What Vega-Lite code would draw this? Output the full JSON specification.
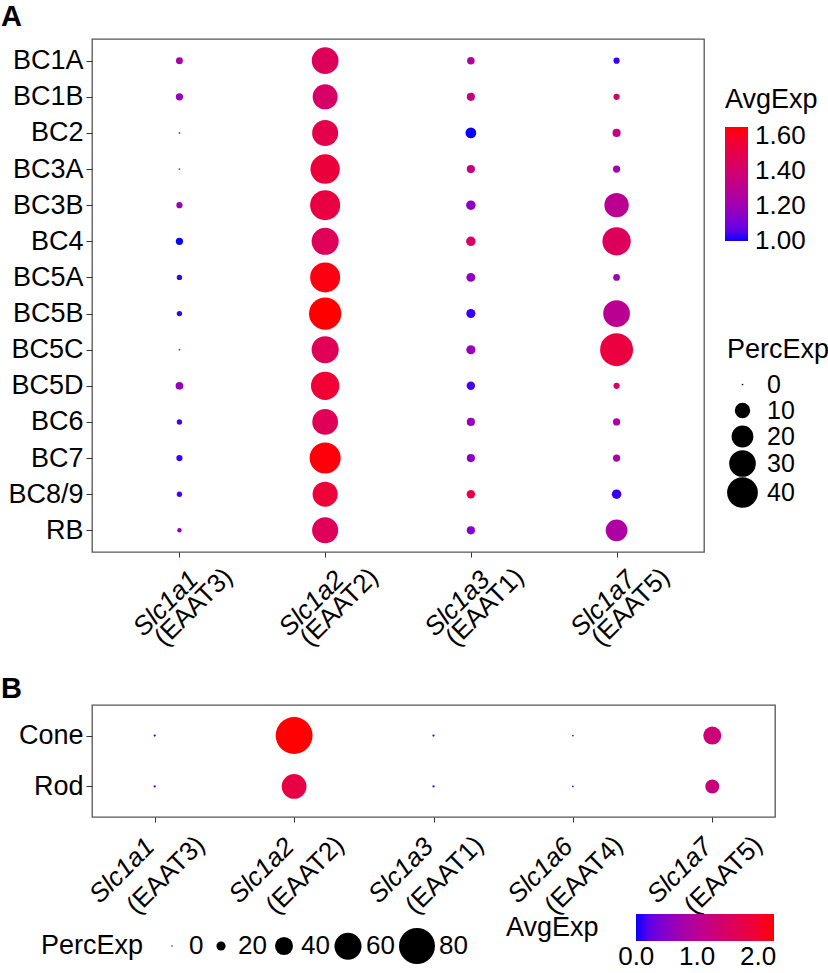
{
  "$schema": "https://vega.github.io/schema/vega-lite/v6.json",
  "padding": {"left": 0, "top": 2, "right": 0, "bottom": 0},
  "background": "white",
  "config": {
    "font": "Liberation Sans",
    "view": {"stroke": "#555555", "strokeWidth": 1.3},
    "axis": {"labelFont": "Liberation Sans", "labelFontSize": 27, "labelColor": "black", "domain": false, "ticks": true, "tickColor": "#333333", "tickSize": 5, "grid": false, "title": null},
    "legend": {"titleFont": "Liberation Sans", "titleFontSize": 27, "titleFontWeight": "normal", "titleColor": "black", "labelFont": "Liberation Sans", "labelFontSize": 26, "labelColor": "black", "labelOverlap": false}
  },
  "datasets": {
    "a": [
      {"cell": "BC1A", "gene": "Slc1a1 (EAAT3)", "pct": 1.9, "avg": 1.22},
      {"cell": "BC1B", "gene": "Slc1a1 (EAAT3)", "pct": 2.1, "avg": 1.18},
      {"cell": "BC2", "gene": "Slc1a1 (EAAT3)", "pct": 0, "avg": 1.3},
      {"cell": "BC3A", "gene": "Slc1a1 (EAAT3)", "pct": 0, "avg": 1.3},
      {"cell": "BC3B", "gene": "Slc1a1 (EAAT3)", "pct": 1.5, "avg": 1.2},
      {"cell": "BC4", "gene": "Slc1a1 (EAAT3)", "pct": 2.1, "avg": 1.0},
      {"cell": "BC5A", "gene": "Slc1a1 (EAAT3)", "pct": 1.1, "avg": 1.02},
      {"cell": "BC5B", "gene": "Slc1a1 (EAAT3)", "pct": 1.1, "avg": 1.02},
      {"cell": "BC5C", "gene": "Slc1a1 (EAAT3)", "pct": 0, "avg": 1.3},
      {"cell": "BC5D", "gene": "Slc1a1 (EAAT3)", "pct": 2.4, "avg": 1.18},
      {"cell": "BC6", "gene": "Slc1a1 (EAAT3)", "pct": 1.1, "avg": 1.03},
      {"cell": "BC7", "gene": "Slc1a1 (EAAT3)", "pct": 1.5, "avg": 1.02},
      {"cell": "BC8/9", "gene": "Slc1a1 (EAAT3)", "pct": 1.1, "avg": 1.03},
      {"cell": "RB", "gene": "Slc1a1 (EAAT3)", "pct": 0.7, "avg": 1.15},
      {"cell": "BC1A", "gene": "Slc1a2 (EAAT2)", "pct": 30.2, "avg": 1.455},
      {"cell": "BC1B", "gene": "Slc1a2 (EAAT2)", "pct": 26.5, "avg": 1.42},
      {"cell": "BC2", "gene": "Slc1a2 (EAAT2)", "pct": 28.7, "avg": 1.5},
      {"cell": "BC3A", "gene": "Slc1a2 (EAAT2)", "pct": 36.5, "avg": 1.54},
      {"cell": "BC3B", "gene": "Slc1a2 (EAAT2)", "pct": 38.2, "avg": 1.52},
      {"cell": "BC4", "gene": "Slc1a2 (EAAT2)", "pct": 31, "avg": 1.46},
      {"cell": "BC5A", "gene": "Slc1a2 (EAAT2)", "pct": 38.2, "avg": 1.63},
      {"cell": "BC5B", "gene": "Slc1a2 (EAAT2)", "pct": 44.3, "avg": 1.65},
      {"cell": "BC5C", "gene": "Slc1a2 (EAAT2)", "pct": 31, "avg": 1.47},
      {"cell": "BC5D", "gene": "Slc1a2 (EAAT2)", "pct": 34, "avg": 1.56},
      {"cell": "BC6", "gene": "Slc1a2 (EAAT2)", "pct": 28, "avg": 1.47},
      {"cell": "BC7", "gene": "Slc1a2 (EAAT2)", "pct": 40.8, "avg": 1.64},
      {"cell": "BC8/9", "gene": "Slc1a2 (EAAT2)", "pct": 26.5, "avg": 1.55},
      {"cell": "RB", "gene": "Slc1a2 (EAAT2)", "pct": 28.7, "avg": 1.46},
      {"cell": "BC1A", "gene": "Slc1a3 (EAAT1)", "pct": 2.3, "avg": 1.25},
      {"cell": "BC1B", "gene": "Slc1a3 (EAAT1)", "pct": 2.7, "avg": 1.35},
      {"cell": "BC2", "gene": "Slc1a3 (EAAT1)", "pct": 4.8, "avg": 1.0},
      {"cell": "BC3A", "gene": "Slc1a3 (EAAT1)", "pct": 2.7, "avg": 1.35},
      {"cell": "BC3B", "gene": "Slc1a3 (EAAT1)", "pct": 3.7, "avg": 1.15},
      {"cell": "BC4", "gene": "Slc1a3 (EAAT1)", "pct": 3.7, "avg": 1.42},
      {"cell": "BC5A", "gene": "Slc1a3 (EAAT1)", "pct": 3.2, "avg": 1.15},
      {"cell": "BC5B", "gene": "Slc1a3 (EAAT1)", "pct": 3.4, "avg": 1.02},
      {"cell": "BC5C", "gene": "Slc1a3 (EAAT1)", "pct": 3.4, "avg": 1.18},
      {"cell": "BC5D", "gene": "Slc1a3 (EAAT1)", "pct": 2.9, "avg": 1.03},
      {"cell": "BC6", "gene": "Slc1a3 (EAAT1)", "pct": 2.7, "avg": 1.18},
      {"cell": "BC7", "gene": "Slc1a3 (EAAT1)", "pct": 2.7, "avg": 1.15},
      {"cell": "BC8/9", "gene": "Slc1a3 (EAAT1)", "pct": 2.9, "avg": 1.52},
      {"cell": "RB", "gene": "Slc1a3 (EAAT1)", "pct": 2.7, "avg": 1.13},
      {"cell": "BC1A", "gene": "Slc1a7 (EAAT5)", "pct": 1.5, "avg": 1.02},
      {"cell": "BC1B", "gene": "Slc1a7 (EAAT5)", "pct": 1.5, "avg": 1.42},
      {"cell": "BC2", "gene": "Slc1a7 (EAAT5)", "pct": 2.7, "avg": 1.35},
      {"cell": "BC3A", "gene": "Slc1a7 (EAAT5)", "pct": 2.1, "avg": 1.2},
      {"cell": "BC3B", "gene": "Slc1a7 (EAAT5)", "pct": 25, "avg": 1.3},
      {"cell": "BC4", "gene": "Slc1a7 (EAAT5)", "pct": 34, "avg": 1.45},
      {"cell": "BC5A", "gene": "Slc1a7 (EAAT5)", "pct": 1.8, "avg": 1.2},
      {"cell": "BC5B", "gene": "Slc1a7 (EAAT5)", "pct": 30.2, "avg": 1.3},
      {"cell": "BC5C", "gene": "Slc1a7 (EAAT5)", "pct": 46, "avg": 1.53},
      {"cell": "BC5D", "gene": "Slc1a7 (EAAT5)", "pct": 1.5, "avg": 1.42},
      {"cell": "BC6", "gene": "Slc1a7 (EAAT5)", "pct": 2.1, "avg": 1.25},
      {"cell": "BC7", "gene": "Slc1a7 (EAAT5)", "pct": 2.1, "avg": 1.25},
      {"cell": "BC8/9", "gene": "Slc1a7 (EAAT5)", "pct": 3.7, "avg": 1.02},
      {"cell": "RB", "gene": "Slc1a7 (EAAT5)", "pct": 20, "avg": 1.25}
    ],
    "b": [
      {"cell": "Cone", "gene": "Slc1a1 (EAAT3)", "pct": 4, "avg": 0.1},
      {"cell": "Cone", "gene": "Slc1a2 (EAAT2)", "pct": 82, "avg": 2.25},
      {"cell": "Cone", "gene": "Slc1a3 (EAAT1)", "pct": 4, "avg": 0.1},
      {"cell": "Cone", "gene": "Slc1a6 (EAAT4)", "pct": 2, "avg": 0.05},
      {"cell": "Cone", "gene": "Slc1a7 (EAAT5)", "pct": 40, "avg": 1.3},
      {"cell": "Rod", "gene": "Slc1a1 (EAAT3)", "pct": 4, "avg": 0.1},
      {"cell": "Rod", "gene": "Slc1a2 (EAAT2)", "pct": 55, "avg": 1.8},
      {"cell": "Rod", "gene": "Slc1a3 (EAAT1)", "pct": 4, "avg": 0.1},
      {"cell": "Rod", "gene": "Slc1a6 (EAAT4)", "pct": 2, "avg": 0.05},
      {"cell": "Rod", "gene": "Slc1a7 (EAAT5)", "pct": 31, "avg": 1.25}
    ]
  },
  "spacing": 22,
  "resolve": {"scale": {"color": "independent", "size": "independent", "x": "independent", "y": "independent"}},
  "vconcat": [
    {
      "title": {"text": "A", "anchor": "start", "frame": "group", "fontSize": 29, "fontWeight": "bold", "color": "black", "dx": -91, "offset": -16, "baseline": "alphabetic"},
      "width": 612,
      "height": 513,
      "data": {"name": "a"},
      "resolve": {"axis": {"x": "independent"}},
      "layer": [
        {
          "mark": {"type": "circle", "opacity": 1},
          "encoding": {
            "x": {"field": "gene", "type": "nominal", "sort": null, "scale": {"type": "point", "padding": 0.6},
                  "axis": {"labelExpr": "split(datum.value, ' ')[0]", "labelFontStyle": "italic", "labelFontSize": 26, "labelAngle": -45, "labelAlign": "right", "labelBaseline": "top", "labelOffset": 5, "labelPadding": 9}},
            "y": {"field": "cell", "type": "nominal", "sort": null, "scale": {"type": "point", "padding": 0.6},
                  "axis": {"tickSize": 6, "labelPadding": 3}},
            "size": {"field": "pct", "type": "quantitative",
                     "scale": {"type": "linear", "domain": [0, 40], "range": [3, 945]},
                     "legend": {"title": "PercExp", "orient": "none", "legendX": 635, "legendY": 298, "values": [0, 10, 20, 30, 40], "symbolFillColor": "black", "symbolStrokeWidth": 0, "symbolOpacity": 1, "symbolType": "circle", "labelFontSize": 25, "labelOffset": 9, "rowPadding": 0, "titlePadding": 8}},
            "color": {"field": "avg", "type": "quantitative",
                      "scale": {"domain": [0.998, 1.65], "range": ["#0000ff", "#ff0000"], "interpolate": "lab"},
                      "legend": {"title": "AvgExp", "orient": "none", "legendX": 633, "legendY": 48, "direction": "vertical", "gradientLength": 114, "gradientThickness": 23, "gradientStrokeWidth": 0, "values": [1.0, 1.2, 1.4, 1.6], "format": ".2f", "labelOffset": 7, "titlePadding": 13}}
          }
        },
        {
          "mark": {"type": "circle", "opacity": 0},
          "encoding": {
            "x": {"field": "gene", "type": "nominal", "sort": null,
                  "axis": {"orient": "bottom", "labelExpr": "split(datum.value, ' ')[1]", "labelFontStyle": "normal", "labelFontSize": 26, "tickOpacity": 0, "labelAngle": -45, "labelAlign": "right", "labelBaseline": "top", "labelOffset": 39, "labelPadding": 6}},
            "y": {"field": "cell", "type": "nominal", "sort": null}
          }
        }
      ]
    },
    {
      "title": {"text": "B", "anchor": "start", "frame": "group", "fontSize": 29, "fontWeight": "bold", "color": "black", "dx": -91, "offset": -22, "baseline": "alphabetic"},
      "width": 683,
      "height": 112,
      "data": {"name": "b"},
      "resolve": {"axis": {"x": "independent"}},
      "layer": [
        {
          "mark": {"type": "circle", "opacity": 1},
          "encoding": {
            "x": {"field": "gene", "type": "nominal", "sort": null, "scale": {"type": "point", "padding": 0.45},
                  "axis": {"labelExpr": "split(datum.value, ' ')[0]", "labelFontStyle": "italic", "labelFontSize": 26, "labelAngle": -45, "labelAlign": "right", "labelBaseline": "top", "labelOffset": -14, "labelPadding": 11}},
            "y": {"field": "cell", "type": "nominal", "sort": null, "scale": {"type": "point", "padding": 0.6},
                  "axis": {"tickSize": 6, "labelPadding": 3}},
            "size": {"field": "pct", "type": "quantitative",
                     "scale": {"type": "pow", "exponent": 2, "domain": [0, 80], "range": [2, 1296]},
                     "legend": {"title": "PercExp", "orient": "none", "direction": "horizontal", "titleOrient": "left", "titleAngle": 0, "titleBaseline": "middle", "legendX": -51, "legendY": 223, "values": [0, 20, 40, 60, 80], "symbolFillColor": "black", "symbolStrokeWidth": 0, "symbolOpacity": 1, "symbolType": "circle", "labelOffset": 4, "columnPadding": 4, "titlePadding": 15}},
            "color": {"field": "avg", "type": "quantitative",
                      "scale": {"domain": [-0.004, 2.26], "range": ["#0000ff", "#ff0000"], "interpolate": "lab"},
                      "legend": {"title": "AvgExp", "orient": "none", "direction": "horizontal", "titleOrient": "left", "titleAngle": 0, "titleBaseline": "middle", "titleAnchor": "middle", "legendX": 414, "legendY": 209, "gradientLength": 138, "gradientThickness": 27, "gradientStrokeWidth": 0, "values": [0, 1, 2], "format": ".1f", "labelOffset": 3, "titlePadding": 37}}
          }
        },
        {
          "mark": {"type": "circle", "opacity": 0},
          "encoding": {
            "x": {"field": "gene", "type": "nominal", "sort": null,
                  "axis": {"orient": "bottom", "labelExpr": "split(datum.value, ' ')[1]", "labelFontStyle": "normal", "labelFontSize": 26, "tickOpacity": 0, "labelAngle": -45, "labelAlign": "right", "labelBaseline": "top", "labelOffset": 36, "labelPadding": 9}},
            "y": {"field": "cell", "type": "nominal", "sort": null}
          }
        }
      ]
    }
  ]
}
